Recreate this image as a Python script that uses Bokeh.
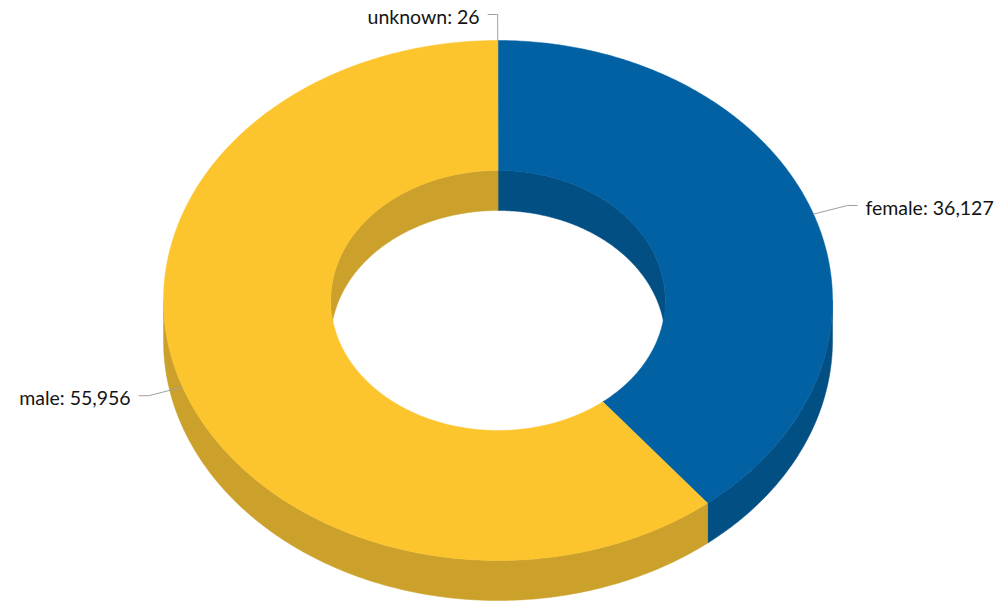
import math
from bokeh.plotting import figure
from bokeh.models import Range1d, ColumnDataSource
from bokeh.embed import file_html
from bokeh.resources import INLINE
from bokeh.core.properties import value

# ---- data ----
categories = ["female", "male", "unknown"]
counts = [36127, 55956, 26]
top_colors = ["#0261A2", "#FCC52E", "#E0C060"]
side_colors = ["#024F84", "#CBA12B", "#B89A40"]

# ---- geometry (pixel space) ----
W, H = 997, 602
CX, CY = 497.5, 300.0
RX, RY = 334.5, 260.0
INNER = 0.5
DEPTH = 40.0


def pt(a_deg, rx, ry, dy=0.0):
    a = math.radians(a_deg)
    return CX + rx * math.sin(a), CY - ry * math.cos(a) + dy


def arc(a1, a2, rx, ry, dy=0.0):
    n = max(2, int(abs(a2 - a1) / 0.5) + 2)
    return [pt(a1 + (a2 - a1) * i / (n - 1), rx, ry, dy) for i in range(n)]


def poly(points):
    return [q[0] for q in points], [q[1] for q in points]


total = float(sum(counts))
starts, ends = [], []
acc = 0.0
for c in counts:
    starts.append(acc / total * 360.0)
    acc += c
    ends.append(acc / total * 360.0)

p = figure(width=W, height=H, x_range=Range1d(0, W), y_range=Range1d(H, 0),
           output_backend="svg", toolbar_location=None, min_border=0)
p.axis.visible = False
p.grid.visible = False
p.outline_line_color = None
p.background_fill_color = "white"
p.border_fill_color = "white"

# outer walls (front half: 90..270)
ow = dict(xs=[], ys=[], c=[])
for a1, a2, col in zip(starts, ends, side_colors):
    b1, b2 = max(a1, 90.0), min(a2, 270.0)
    if b2 > b1:
        pts = arc(b1, b2, RX, RY) + arc(b1, b2, RX, RY, DEPTH)[::-1]
        xs, ys = poly(pts)
        ow["xs"].append(xs); ow["ys"].append(ys); ow["c"].append(col)
p.patches("xs", "ys", fill_color="c", line_color="c", line_width=0.5,
          source=ColumnDataSource(ow))

# inner walls (back half: 0..90 and 270..360)
iw = dict(xs=[], ys=[], c=[])
for a1, a2, col in zip(starts, ends, side_colors):
    for lo, hi in ((0.0, 90.0), (270.0, 360.0)):
        b1, b2 = max(a1, lo), min(a2, hi)
        if b2 > b1:
            pts = arc(b1, b2, RX * INNER, RY * INNER) + \
                arc(b1, b2, RX * INNER, RY * INNER, DEPTH)[::-1]
            xs, ys = poly(pts)
            iw["xs"].append(xs); iw["ys"].append(ys); iw["c"].append(col)
p.patches("xs", "ys", fill_color="c", line_color="c", line_width=0.5,
          source=ColumnDataSource(iw))

# top faces
tf = dict(xs=[], ys=[], c=[])
for a1, a2, col in zip(starts, ends, top_colors):
    pts = arc(a1, a2, RX, RY) + arc(a1, a2, RX * INNER, RY * INNER)[::-1]
    xs, ys = poly(pts)
    tf["xs"].append(xs); tf["ys"].append(ys); tf["c"].append(col)
p.patches("xs", "ys", fill_color="c", line_color="c", line_width=0.5,
          source=ColumnDataSource(tf))

# labels and connectors
cx_list, cy_list = [], []
left = dict(x=[], y=[], t=[])
right = dict(x=[], y=[], t=[])
for cat, c, a1, a2 in zip(categories, counts, starts, ends):
    m = (a1 + a2) / 2.0
    ax, ay = pt(m, RX, RY)
    ex, ey = pt(m, RX + 36, RY + 26)
    side = 1 if math.sin(math.radians(m)) > 0 else -1
    hx = ex + side * 10
    cx_list.append([ax, ex, hx]); cy_list.append([ay, ey, ey])
    lab = f"{cat}: {c:,}"
    d = right if side > 0 else left
    d["x"].append(hx + side * 8); d["y"].append(ey + 1.5); d["t"].append(lab)

p.multi_line(cx_list, cy_list, line_color="#A0A0A0", line_width=1)
for d, al in ((left, "right"), (right, "left")):
    p.text(x="x", y="y", text="t", source=ColumnDataSource(d),
           text_font=value("Lato"), text_font_size="19.5px", text_color="#141414",
           text_align=al, text_baseline="middle")

open("out.html", "w").write(file_html(p, INLINE))
